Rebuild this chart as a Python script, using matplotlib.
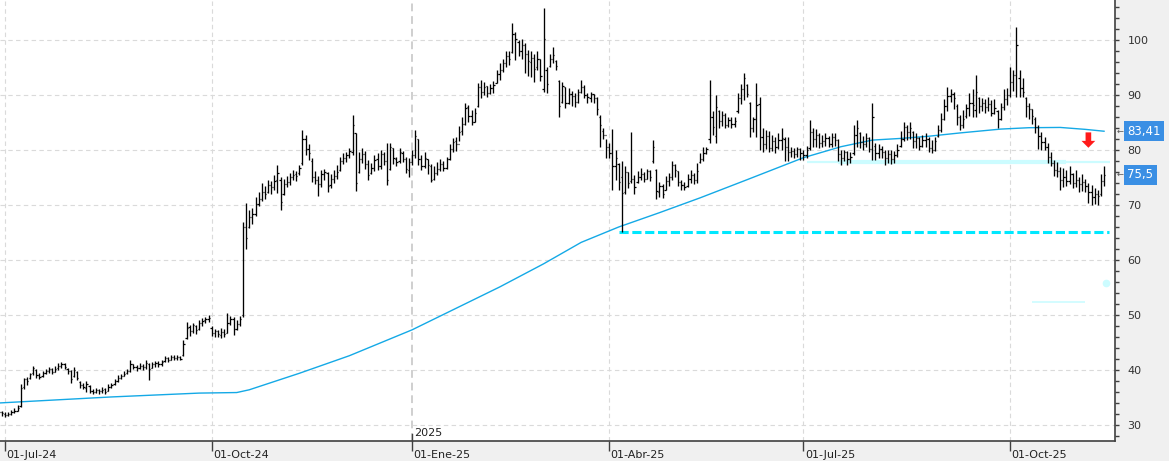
"""Daily OHLC bars with the 200-session average, support lines and price tags."""
import numpy as np
import pandas as pd
import matplotlib
matplotlib.use("Agg")
import matplotlib.pyplot as plt
import matplotlib.transforms as mtransforms
from matplotlib.collections import LineCollection
from matplotlib.patches import Polygon

# trading calendar
first_day = "2024-06-27"
last_day = "2025-11-12"
holidays = ["2024-12-25", "2024-12-26", "2025-01-01", "2025-04-18", "2025-04-21", "2025-05-01"]

month_starts = ["2024-07-01", "2024-10-01", "2025-01-01", "2025-04-01", "2025-07-01", "2025-10-01"]
month_labels = ["01-Jul-24", "01-Oct-24", "01-Ene-25", "01-Abr-25", "01-Jul-25", "01-Oct-25"]
year_start = "2025-01-01"
year_label = "2025"

opens = [
    32.2, 32.4, 32.0, 31.8, 32.0, 32.3, 32.6, 33.4, 36.9, 38.4,
    38.6, 39.4, 40.0, 39.0, 38.9, 39.4, 39.8, 40.1, 39.7, 40.3,
    40.8, 41.0, 40.2, 39.8, 38.9, 39.6, 37.8, 37.2, 36.8, 37.0,
    36.2, 36.0, 36.4, 36.1, 36.5, 36.1, 36.9, 37.4, 38.0, 38.6,
    38.9, 39.4, 39.8, 41.0, 40.6, 40.4, 40.8, 40.5, 41.1, 40.4,
    41.0, 41.3, 41.0, 41.6, 42.1, 41.9, 42.4, 42.2, 42.4, 42.8,
    45.8, 47.8, 47.0, 48.0, 47.5, 48.5, 49.0, 49.2, 47.6, 46.8,
    47.0, 46.4, 46.9, 46.8, 48.5, 49.2, 47.5, 48.4, 50.0, 66.0,
    66.0, 67.8, 68.4, 70.2, 71.0, 72.4, 72.4, 73.6, 73.2, 74.6,
    74.6, 72.0, 73.8, 74.2, 75.0, 75.6, 75.8, 77.6, 82.0, 80.2,
    78.0, 75.0, 74.6, 73.8, 75.6, 75.8, 73.6, 74.8, 75.2, 76.4,
    78.0, 78.6, 79.0, 79.6, 83.0, 76.0, 78.4, 79.2, 77.5, 75.8,
    76.8, 78.4, 77.0, 79.2, 78.0, 76.6, 80.4, 78.4, 78.0, 79.5,
    78.4, 76.4, 77.8, 79.0, 82.0, 78.4, 77.0, 78.4, 77.0, 74.8,
    75.8, 76.6, 77.4, 76.8, 78.4, 80.2, 81.6, 81.0, 83.4, 84.8,
    87.8, 86.2, 85.0, 88.0, 91.4, 90.6, 91.6, 90.4, 91.2, 92.2,
    93.8, 94.6, 95.8, 97.0, 97.8, 101.0, 99.6, 98.0, 99.0, 97.5,
    96.0, 96.8, 95.0, 96.5, 91.0, 94.6, 95.2, 96.6, 96.2, 92.6,
    88.8, 91.4, 88.6, 90.2, 89.8, 88.8, 90.6, 91.4, 90.0, 89.4,
    90.2, 89.4, 86.0, 83.4, 82.8, 80.6, 79.4, 77.0, 77.4, 75.0,
    72.4, 76.0, 74.4, 74.8, 74.2, 75.0, 75.6, 74.8, 76.2, 78.0,
    76.4, 72.4, 73.5, 72.8, 74.4, 75.0, 77.2, 76.2, 74.2, 73.6,
    73.4, 74.8, 75.4, 74.6, 77.8, 78.4, 79.4, 82.0, 86.0, 82.6,
    87.0, 85.2, 86.3, 84.6, 85.4, 84.8, 87.0, 89.5, 91.0, 91.8,
    88.6, 84.0, 85.6, 88.4, 82.4, 81.0, 82.6, 80.4, 81.6, 80.6,
    81.8, 82.0, 80.6, 79.6, 79.8, 79.2, 80.2, 79.4, 79.0, 80.4,
    83.2, 82.0, 82.8, 81.2, 81.6, 82.2, 81.0, 82.4, 81.8, 79.2,
    78.6, 79.6, 78.4, 79.4, 82.8, 83.0, 81.4, 81.0, 82.2, 80.2,
    80.8, 79.4, 80.2, 79.6, 78.6, 79.2, 78.3, 79.0, 80.8, 82.0,
    84.2, 83.2, 83.2, 81.6, 82.2, 80.8, 81.8, 82.0, 80.4, 80.0,
    82.6, 83.6, 85.6, 88.0, 89.8, 90.2, 88.0, 86.0, 84.6, 86.2,
    87.6, 88.6, 87.2, 89.4, 88.0, 88.6, 87.8, 88.4, 86.8, 87.0,
    85.6, 87.8, 89.2, 90.0, 92.4, 93.6, 93.0, 91.2, 89.4, 88.0,
    87.4, 85.6, 84.2, 82.6, 81.4, 80.6, 78.8, 77.6, 76.4, 76.2,
    74.6, 75.0, 74.4, 75.6, 74.0, 74.6, 73.8, 74.2, 73.4, 72.4,
    71.4, 72.0, 72.0, 74.4,
]
highs = [
    32.8, 32.5, 32.3, 32.4, 32.7, 33.0, 33.6, 37.4, 38.6, 38.8,
    39.5, 40.8, 40.1, 39.4, 39.8, 40.2, 40.5, 40.3, 40.7, 41.2,
    41.4, 41.2, 40.4, 40.0, 40.6, 39.8, 38.0, 37.6, 38.0, 37.2,
    36.5, 36.8, 36.6, 36.9, 36.7, 37.4, 37.6, 38.4, 39.0, 39.3,
    39.8, 40.2, 41.8, 41.0, 40.9, 41.2, 41.0, 41.9, 41.2, 41.5,
    41.7, 41.6, 41.9, 42.6, 42.4, 42.8, 42.7, 42.8, 42.6, 45.5,
    48.7, 48.2, 48.6, 48.2, 49.0, 49.4, 49.6, 50.0, 48.0, 47.5,
    47.3, 47.6, 47.4, 50.4, 49.8, 49.6, 49.0, 49.9, 66.9, 70.4,
    69.0, 69.4, 71.4, 72.4, 74.0, 73.4, 74.6, 74.4, 75.4, 77.3,
    75.0, 74.8, 75.2, 75.8, 76.4, 76.2, 77.2, 83.6, 82.8, 81.0,
    78.6, 76.2, 75.2, 76.4, 76.6, 76.0, 75.6, 76.4, 77.2, 78.8,
    79.4, 79.6, 80.4, 86.4, 83.0, 79.6, 80.4, 79.8, 78.2, 77.6,
    79.0, 79.4, 80.0, 79.6, 81.2, 81.3, 80.4, 78.8, 80.4, 79.8,
    78.8, 78.6, 80.0, 83.6, 82.0, 79.0, 79.6, 78.4, 77.4, 77.0,
    77.8, 78.4, 78.0, 78.8, 81.0, 82.2, 82.4, 84.4, 86.0, 88.5,
    88.2, 87.2, 87.6, 92.2, 92.7, 92.4, 91.6, 92.0, 92.6, 94.6,
    95.8, 96.6, 98.0, 98.0, 103.0, 101.4, 100.0, 100.2, 99.5, 98.2,
    98.0, 97.4, 98.0, 96.6, 105.8, 95.0, 97.4, 98.7, 96.4, 92.7,
    92.4, 91.5, 91.2, 90.8, 90.4, 91.0, 92.7, 91.8, 90.4, 90.6,
    90.2, 89.6, 86.4, 84.0, 82.0, 81.2, 83.8, 80.0, 77.6, 78.0,
    77.0, 76.0, 83.3, 75.4, 76.2, 76.7, 76.0, 76.6, 76.4, 81.8,
    76.6, 74.2, 73.8, 75.2, 75.8, 78.0, 77.4, 76.2, 74.5, 74.2,
    75.6, 76.4, 75.8, 77.6, 79.4, 80.5, 80.6, 92.7, 87.0, 90.0,
    87.3, 87.0, 86.8, 86.0, 86.0, 86.0, 90.4, 92.0, 94.0, 92.0,
    88.8, 86.0, 92.2, 89.6, 84.0, 83.6, 83.4, 82.8, 82.4, 83.0,
    84.0, 82.4, 82.4, 80.5, 80.4, 80.5, 80.4, 80.0, 80.8, 85.5,
    84.0, 83.8, 83.0, 82.8, 83.0, 82.6, 83.0, 83.0, 82.0, 80.0,
    80.0, 79.8, 79.6, 84.6, 85.5, 83.2, 82.6, 83.0, 82.4, 88.5,
    81.3, 81.0, 80.8, 80.0, 80.0, 80.0, 79.8, 81.0, 83.4, 85.0,
    84.6, 85.0, 83.4, 83.0, 82.4, 82.8, 83.0, 82.4, 81.8, 82.4,
    84.6, 86.7, 89.2, 91.5, 91.0, 90.6, 88.4, 86.4, 87.2, 88.4,
    90.4, 91.0, 93.6, 89.6, 89.4, 89.2, 89.6, 89.0, 89.2, 87.3,
    88.6, 91.0, 91.2, 95.0, 94.6, 102.4, 94.5, 93.0, 89.6, 88.6,
    87.4, 86.0, 84.5, 83.2, 82.4, 81.3, 79.6, 78.2, 77.8, 76.9,
    76.8, 76.4, 77.0, 75.8, 76.4, 75.0, 75.6, 74.8, 74.0, 73.6,
    73.0, 72.8, 75.6, 77.0,
]
lows = [
    31.8, 31.6, 31.4, 31.6, 31.9, 32.1, 32.5, 33.2, 36.5, 37.2,
    38.4, 39.0, 38.6, 38.3, 38.8, 39.2, 39.5, 39.2, 39.6, 40.0,
    40.3, 40.2, 39.3, 37.6, 38.8, 38.2, 36.8, 36.5, 36.0, 35.8,
    35.6, 35.8, 35.7, 35.9, 35.6, 36.1, 36.7, 37.3, 37.8, 38.3,
    38.9, 39.2, 39.6, 40.1, 39.9, 40.2, 40.0, 40.2, 38.2, 40.3,
    40.6, 40.6, 40.8, 41.5, 41.5, 41.8, 41.8, 41.9, 41.8, 42.6,
    45.6, 46.2, 46.8, 46.5, 47.3, 48.0, 48.5, 48.8, 46.2, 46.0,
    46.0, 45.8, 46.0, 46.7, 48.2, 46.4, 47.2, 48.0, 49.6, 62.0,
    65.8, 66.5, 68.0, 69.8, 70.8, 71.0, 72.2, 72.0, 72.8, 72.2,
    69.0, 71.8, 73.2, 73.6, 74.6, 74.4, 75.4, 77.3, 79.0, 78.2,
    74.2, 73.8, 71.6, 73.2, 74.6, 72.4, 73.0, 74.0, 74.8, 76.2,
    77.4, 77.8, 78.6, 79.0, 72.5, 75.8, 77.6, 76.6, 74.5, 75.6,
    76.2, 76.4, 76.6, 77.2, 73.6, 76.4, 77.4, 77.0, 77.6, 77.8,
    75.8, 75.0, 77.2, 78.6, 77.2, 76.4, 76.8, 75.6, 74.2, 74.5,
    75.4, 76.2, 76.2, 76.6, 78.2, 79.6, 79.8, 81.6, 82.8, 84.6,
    85.0, 84.6, 85.0, 87.8, 89.4, 90.0, 89.6, 90.2, 90.4, 92.2,
    92.7, 94.2, 95.0, 95.4, 97.6, 96.4, 97.0, 96.6, 94.0, 93.4,
    93.3, 92.4, 94.6, 92.6, 90.5, 90.4, 95.0, 95.8, 94.5, 86.0,
    88.6, 87.6, 88.4, 88.0, 87.8, 88.6, 90.4, 89.4, 88.5, 88.8,
    88.5, 86.4, 80.5, 82.0, 78.5, 78.6, 72.7, 74.5, 72.7, 65.0,
    72.0, 73.0, 74.0, 72.0, 74.0, 74.6, 74.2, 74.8, 74.4, 77.6,
    71.0, 71.4, 71.2, 72.7, 73.4, 74.5, 75.0, 73.4, 72.7, 72.8,
    73.3, 74.0, 73.8, 74.0, 77.6, 78.0, 79.2, 81.3, 82.8, 81.3,
    84.0, 84.4, 84.0, 84.2, 84.0, 84.2, 86.7, 88.4, 89.0, 89.6,
    82.4, 83.2, 82.4, 80.0, 79.6, 80.2, 79.6, 79.8, 79.5, 80.2,
    80.0, 78.0, 78.0, 78.7, 78.6, 78.8, 78.2, 78.2, 78.6, 80.0,
    80.5, 80.6, 80.4, 80.5, 80.8, 80.5, 80.6, 80.8, 78.0, 77.3,
    78.0, 77.3, 77.6, 79.0, 80.5, 80.4, 80.0, 80.5, 79.6, 78.2,
    78.2, 78.6, 78.6, 77.3, 77.6, 77.4, 77.6, 78.8, 80.5, 81.6,
    81.8, 82.0, 80.4, 80.4, 80.0, 80.5, 80.6, 79.6, 79.5, 79.8,
    82.4, 83.2, 85.5, 87.0, 88.8, 87.4, 84.6, 83.6, 84.0, 85.8,
    86.2, 86.0, 86.0, 86.7, 87.0, 86.8, 87.0, 86.2, 86.6, 84.0,
    85.4, 87.3, 88.2, 89.6, 90.8, 89.6, 89.6, 89.6, 86.0, 85.6,
    84.7, 83.0, 80.2, 80.0, 80.0, 77.6, 77.0, 75.2, 75.0, 72.7,
    73.3, 73.4, 73.8, 73.0, 73.2, 72.4, 72.6, 72.4, 70.4, 70.0,
    70.2, 70.0, 71.6, 73.4,
]
closes = [
    32.4, 32.1, 31.8, 32.0, 32.3, 32.6, 33.1, 36.8, 38.3, 38.0,
    39.2, 40.3, 39.0, 38.8, 39.4, 39.8, 40.1, 39.6, 40.2, 40.8,
    41.0, 40.6, 39.8, 38.4, 40.0, 38.6, 37.2, 36.9, 37.4, 36.2,
    36.0, 36.3, 36.1, 36.4, 36.0, 36.9, 37.3, 38.0, 38.6, 38.9,
    39.3, 39.8, 41.0, 40.6, 40.4, 40.7, 40.5, 41.3, 40.2, 41.0,
    41.2, 41.0, 41.4, 42.1, 41.9, 42.3, 42.2, 42.4, 42.0, 44.8,
    47.6, 47.0, 48.2, 47.3, 48.5, 48.9, 49.2, 49.5, 46.8, 47.0,
    46.5, 46.9, 46.6, 48.5, 49.2, 47.5, 48.3, 49.3, 66.0, 64.0,
    67.8, 68.4, 70.2, 71.0, 72.4, 72.0, 73.6, 73.2, 74.4, 75.8,
    70.5, 73.8, 74.2, 75.0, 75.5, 75.2, 76.8, 82.0, 80.2, 79.4,
    75.0, 74.6, 73.8, 75.6, 76.0, 73.4, 74.8, 75.2, 76.0, 78.0,
    78.6, 79.0, 79.8, 84.5, 74.0, 78.4, 79.2, 77.5, 75.5, 76.8,
    78.2, 77.0, 79.3, 78.0, 74.5, 80.6, 78.5, 77.8, 79.6, 78.4,
    76.5, 77.8, 79.0, 82.5, 78.4, 77.0, 78.6, 77.2, 74.6, 75.8,
    76.6, 77.5, 76.8, 78.3, 80.2, 81.5, 81.0, 83.3, 84.8, 87.6,
    86.2, 85.0, 86.8, 91.5, 90.6, 91.5, 90.4, 91.2, 91.8, 93.8,
    94.5, 95.8, 97.0, 96.5, 101.0, 100.2, 98.0, 99.0, 97.5, 96.2,
    96.8, 94.8, 96.5, 93.5, 100.2, 92.0, 96.6, 97.2, 95.2, 88.0,
    91.6, 88.6, 90.2, 89.8, 88.8, 90.5, 91.4, 90.0, 89.6, 90.2,
    89.4, 87.4, 84.5, 82.8, 80.6, 79.4, 77.0, 78.6, 74.2, 72.2,
    76.0, 74.0, 74.8, 73.2, 75.0, 75.6, 74.8, 76.2, 75.0, 80.6,
    72.6, 73.5, 72.0, 74.4, 75.0, 77.2, 76.4, 74.2, 73.6, 73.2,
    74.8, 75.4, 74.6, 76.2, 78.4, 79.4, 80.2, 86.0, 84.2, 87.8,
    85.2, 86.3, 84.6, 85.4, 84.8, 85.2, 89.5, 91.0, 93.0, 90.2,
    84.0, 85.6, 88.2, 82.4, 81.0, 82.6, 80.4, 81.6, 80.6, 81.8,
    82.2, 80.6, 79.6, 79.8, 79.2, 80.2, 79.4, 79.0, 80.0, 83.2,
    82.0, 82.8, 81.2, 81.6, 82.2, 81.0, 82.4, 81.8, 79.2, 78.6,
    79.6, 78.4, 78.8, 82.8, 84.0, 81.4, 81.0, 82.2, 80.2, 86.0,
    79.4, 80.2, 79.6, 78.6, 79.2, 78.3, 79.0, 80.0, 82.0, 84.2,
    83.2, 84.0, 81.6, 82.2, 80.8, 81.8, 82.0, 80.4, 80.0, 81.6,
    83.6, 85.6, 88.0, 89.8, 90.2, 89.4, 86.0, 84.6, 85.6, 87.6,
    88.6, 88.2, 90.6, 88.0, 88.6, 87.8, 88.4, 86.8, 87.6, 85.6,
    87.8, 89.2, 90.0, 92.4, 93.6, 99.0, 91.2, 90.6, 88.0, 87.4,
    86.2, 84.2, 82.6, 81.4, 80.6, 78.8, 77.6, 76.4, 76.2, 74.6,
    75.0, 74.4, 75.6, 74.0, 74.6, 73.8, 74.2, 73.4, 72.4, 71.4,
    72.0, 71.6, 74.4, 75.5,
]

# 200-session moving average, read at a few sessions
ma_bars = [0, 36, 64, 76, 80, 96, 112, 132, 146, 160, 174, 186, 198,
           211, 224, 239, 257, 269, 279, 288, 297, 307, 320, 329, 339, 347, 353]
ma_values = [34.0, 35.1, 35.8, 35.9, 36.4, 39.4, 42.6, 47.3, 51.2, 55.1, 59.3, 63.2, 66.0,
             68.6, 71.3, 74.6, 78.6, 80.6, 81.8, 82.1, 82.5, 83.1, 83.8, 84.05, 84.1, 83.75, 83.41]

# drawn levels
support_level = 65.0
support_from = "2025-04-04"
resistance_level = 77.85
resistance_from = "2025-07-02"
resistance_thick = ("2025-07-16", "2025-10-27")
faint_level = 52.4
faint_span = ("2025-10-10", "2025-11-04")
faint_dot = 55.8
arrow_day = "2025-11-05"
arrow_top, arrow_tip = 83.2, 80.4

price_tags = [("83,41", 83.41), ("75,5", 75.5)]

dates = pd.bdate_range(first_day, last_day)
dates = dates[~dates.isin(pd.to_datetime(holidays))]


def bar_of(day):
    return int(dates.searchsorted(pd.Timestamp(day)))


n = len(closes)
x = np.arange(n)

fig = plt.figure(figsize=(11.69, 4.61), dpi=100, facecolor="#f0f0f0")
ax = fig.add_axes([0, 20 / 461, 1115 / 1169, 441 / 461])
ax.set_facecolor("white")
ax.set_xlim(0.4, 356.5)
ax.set_ylim(27.09, 107.27)

# grid
ax.set_yticks(range(30, 101, 10))
ax.set_yticks(np.arange(28, 107, 2), minor=True)
ax.grid(axis="y", which="major", color="#dadada", ls=(0, (4, 3)), lw=0.8)
month_pos = [bar_of(d) for d in month_starts]
year_pos = bar_of(year_start)
for p in month_pos:
    if p != year_pos:
        ax.axvline(p, color="#dadada", ls=(0, (4, 3)), lw=0.8, zorder=0)
ax.axvline(year_pos, color="#cfcfcf", ls=(0, (4, 2.5)), lw=1.4, zorder=0)

# levels
ax.hlines(resistance_level, bar_of(resistance_from), n + 1, color="#ccfcff", lw=1.6, zorder=1)
ax.hlines(resistance_level, bar_of(resistance_thick[0]), bar_of(resistance_thick[1]),
          color="#ccfcff", lw=3.0, zorder=1)
ax.hlines(faint_level, bar_of(faint_span[0]), bar_of(faint_span[1]), color="#ccfcff", lw=1.2, zorder=1)
ax.plot([n - 0.4], [faint_dot], "o", color="#ccfcff", ms=4.5, zorder=1)
ax.hlines(support_level, bar_of(support_from), n + 0.5, color="#00e8ff", lw=2.2,
          linestyles=[(0, (3, 1.2))], zorder=2)

# moving average
ax.plot(ma_bars, ma_values, color="#14a9e6", lw=1.0, zorder=2)

# OHLC bars
hl = [((i, lo), (i, hi)) for i, lo, hi in zip(x, lows, highs)]
ot = [((i - 0.4, o), (i, o)) for i, o in zip(x, opens)]
ct = [((i, c), (i + 0.4, c)) for i, c in zip(x, closes)]
ax.add_collection(LineCollection(hl, colors="black", linewidths=0.95, zorder=3))
ax.add_collection(LineCollection(ot + ct, colors="black", linewidths=0.9, zorder=3))

# red arrow
ab = bar_of(arrow_day)
neck = arrow_tip + (arrow_top - arrow_tip) * 0.45
arrow = Polygon([(ab - 0.9, arrow_top), (ab + 0.9, arrow_top), (ab + 0.9, neck), (ab + 2.2, neck),
                 (ab, arrow_tip), (ab - 2.2, neck), (ab - 0.9, neck)],
                closed=True, facecolor="#ff1a1a", edgecolor="none", zorder=4)
ax.add_patch(arrow)

# axes styling
for s in ("left", "top"):
    ax.spines[s].set_visible(False)
ax.spines["right"].set_color("#404040")
ax.spines["bottom"].set_color("#404040")
ax.spines["right"].set_linewidth(1.2)
ax.spines["bottom"].set_linewidth(1.2)
ax.yaxis.tick_right()
ax.tick_params(axis="y", which="both", direction="out", length=3, width=1, color="#404040",
               labelsize=8, pad=6, labelcolor="#333333")
ax.set_xticks(month_pos)
ax.set_xticklabels([])
ax.tick_params(axis="x", direction="out", length=7, width=1, color="#404040")

bx = mtransforms.blended_transform_factory(ax.transData, ax.transAxes)
for p, lab in zip(month_pos, month_labels):
    ax.annotate(lab, xy=(p, 0), xycoords=bx, xytext=(1, -10), textcoords="offset points",
                ha="left", va="center", fontsize=8, color="#222222", annotation_clip=False)
ax.plot([year_pos, year_pos], [0, 0.016], transform=bx, color="#404040", lw=1, clip_on=False)
ax.annotate(year_label, xy=(year_pos, 0), xycoords=bx, xytext=(1.5, 2), textcoords="offset points",
            ha="left", va="bottom", fontsize=8, color="#222222")

# price tags on the right axis
by = mtransforms.blended_transform_factory(ax.transAxes, ax.transData)
for txt, val in price_tags:
    ax.text(1.0112, val, txt, transform=by, ha="left", va="center", fontsize=8.5, color="white",
            bbox=dict(boxstyle="square,pad=0.28", facecolor="#3a8fe4", edgecolor="none"), zorder=6,
            clip_on=False)
    ax.text(1.0012, val, "\u2190", transform=by, ha="left", va="center", fontsize=6,
            color="#555555", clip_on=False)

fig.savefig("out.png", dpi=100, facecolor=fig.get_facecolor())
